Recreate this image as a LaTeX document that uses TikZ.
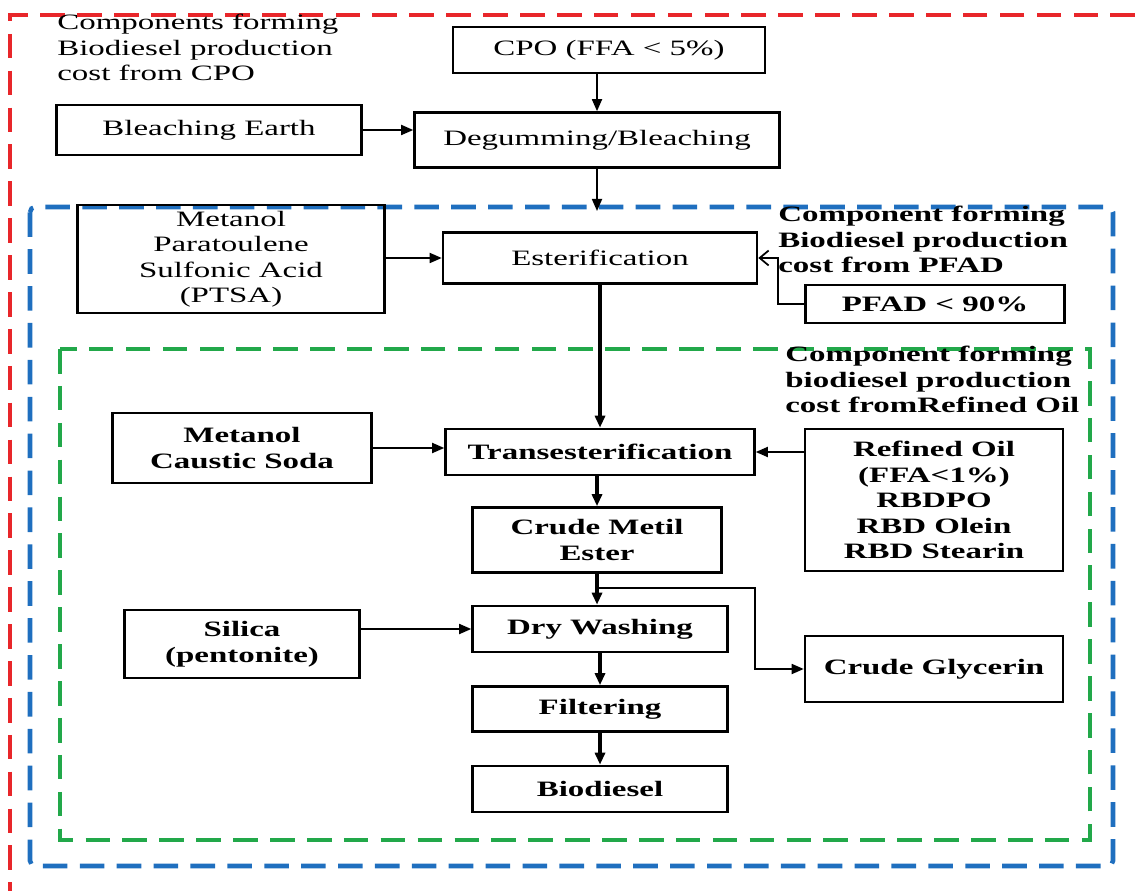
\documentclass[tikz,border=0pt]{standalone}
\usepackage{fontspec}
\setmainfont{Liberation Serif}[FakeStretch=1.5]
\usetikzlibrary{arrows.meta,positioning}
\definecolor{cpored}{HTML}{E8262A}
\definecolor{pfadblue}{HTML}{1F6FBF}
\definecolor{oilgreen}{HTML}{22A84A}

\begin{document}
\begin{tikzpicture}[x=0.02cm, y=-0.02cm,
  box/.style={draw, line width=1.5pt, align=center, inner sep=0pt,
    font=\fontsize{12.5}{14.5}\selectfont},
  boldbox/.style={box, font=\fontsize{12.5}{14.5}\selectfont\bfseries},
  note/.style={align=left, anchor=north west, inner sep=0pt,
    font=\fontsize{12.5}{14.5}\selectfont},
  arr/.style={-{Triangle[length=2.4mm, width=2mm]}, line width=1pt},
  thickarr/.style={arr, line width=2pt},
  openarr/.style={-{Straight Barb[length=1.8mm, width=3mm]}, line width=1pt},
  frame/.style={line width=2.6pt, dash pattern=on 14pt off 7pt}]

  \useasboundingbox (0,0) rectangle (1135,891);

  % dashed frames
  \draw[frame, cpored] (1135,15) -| (10,891);
  \draw[frame, pfadblue, rounded corners=3pt] (30,207) rectangle (1113,866);
  \draw[frame, oilgreen] (60,349) rectangle (1090,840);

  % CPO part
  \node[note] (capcpo) at (57,14) {Components forming\\Biodiesel production\\cost from CPO};
  \node[box, minimum width=6.24cm, minimum height=0.92cm] (cpo) at (609,50) {CPO (FFA < 5\%)};
  \node[box, minimum width=6.1cm, minimum height=1cm] (bleach) at (209,130) {Bleaching Earth};
  \node[box, minimum width=7.3cm, minimum height=1.1cm] (degum) at (597,140) {Degumming/Bleaching};
  \coordinate (estin) at (597,211);

  \draw[arr] (cpo.south -| degum) -- (degum.north);
  \draw[arr] (bleach.east) -- (bleach.east -| degum.west);
  \draw[arr] (degum.south) -- (estin);

  % PFAD part
  \node[box, minimum width=6.14cm, minimum height=2.16cm] (ptsa) at (231,259)
    {Metanol\\Paratoulene\\Sulfonic Acid\\(PTSA)};
  \node[box, minimum width=6.28cm, minimum height=1.02cm] (ester) at (600,258) {Esterification};
  \node[note, font=\fontsize{12.5}{14.5}\selectfont\bfseries] (cappfad) at (778,206)
    {Component forming\\Biodiesel production\\cost from PFAD};
  \node[boldbox, minimum width=5.18cm, minimum height=0.76cm] (pfad) at (935,304) {PFAD < 90\%};

  \draw[arr] (ptsa.east |- ester) -- (ester.west);
  \draw[openarr] (pfad.west) -- ++(-26,0) |- (ester.east);

  % refined oil part
  \node[note, font=\fontsize{12.5}{14.5}\selectfont\bfseries] (capoil) at (785,346)
    {Component forming\\biodiesel production\\cost fromRefined Oil};
  \node[boldbox, minimum width=6.18cm, minimum height=0.92cm] (trans) at (600,452) {Transesterification};
  \node[boldbox, minimum width=5.16cm, minimum height=2.84cm] (refined) at (934,500)
    {Refined Oil\\(FFA<1\%)\\RBDPO\\RBD Olein\\RBD Stearin};
  \node[boldbox, minimum width=5.18cm, minimum height=1.4cm] (mcs) at (242,448) {Metanol\\Caustic Soda};
  \node[boldbox, minimum width=4.98cm, minimum height=1.3cm] (cme) at (597,540) {Crude Metil\\Ester};
  \node[boldbox, minimum width=5.1cm, minimum height=0.92cm] (dry) at (600,629) {Dry Washing};
  \node[boldbox, minimum width=5.16cm, minimum height=1.32cm] (glyc) at (934,669) {Crude Glycerin};
  \node[boldbox, minimum width=4.7cm, minimum height=1.36cm] (silica) at (242,644) {Silica\\(pentonite)};
  \node[boldbox, minimum width=5.1cm, minimum height=0.9cm] (filt) at (600,709) {Filtering};
  \node[boldbox, minimum width=5.1cm, minimum height=0.92cm] (bio) at (600,789) {Biodiesel};
  \coordinate (split) at (598,588);
  \coordinate (bend) at (755,588);

  \draw[thickarr] (ester.south -| trans) -- (trans.north);
  \draw[arr] (refined.west |- trans.east) -- (trans.east);
  \draw[arr] (mcs.east) -- (mcs.east -| trans.west);
  \draw[thickarr] (trans.south -| cme) -- (cme.north);
  \draw[thickarr] (cme.south) -- (cme.south |- dry.north);
  \draw[arr] (split) -- (bend) |- (glyc.west);
  \draw[arr] (silica.east |- dry.west) -- (dry.west);
  \draw[thickarr] (dry.south) -- (filt.north);
  \draw[thickarr] (filt.south) -- (bio.north);
\end{tikzpicture}
\end{document}
